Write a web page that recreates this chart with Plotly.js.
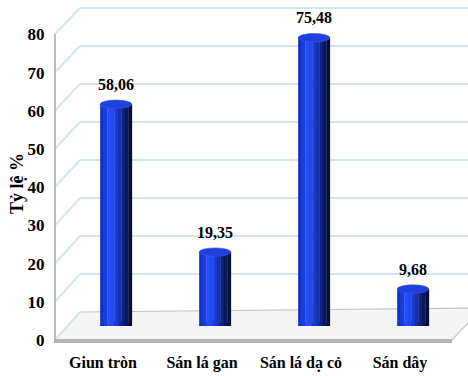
<!DOCTYPE html>
<html><head><meta charset="utf-8">
<script src="https://cdn.plot.ly/plotly-3.0.1.min.js"></script>
<style>html,body{margin:0;padding:0;background:#fff}</style>
</head><body>
<div id="chart" style="width:468px;height:376px"></div>
<script>
const categories = ['Giun tròn', 'Sán lá gan', 'Sán lá dạ cỏ', 'Sán dây'];
const values = [58.06, 19.35, 75.48, 9.68];
const yTicks = [0, 10, 20, 30, 40, 50, 60, 70, 80];
const yTitle = 'Tỷ lệ %';

const W = 468, H = 376;
const px = x => x / W, py = y => 1 - y / H;
const FONT = 'Liberation Serif, Times New Roman, serif';

// cylinder shading stripes (left -> right)
const stripeColors = ['#1533c2', '#1b3de0', '#2450fa', '#2149f2', '#1a3bd6', '#1230b0', '#0c2284', '#081858', '#050f3c'];
const barWidth = 0.32;
const sw = barWidth / stripeColors.length;

const traces = stripeColors.map((c, i) => ({
  type: 'bar', x: categories, y: values,
  width: sw * 1.08, offset: -barWidth / 2 + i * sw,
  marker: {color: c, line: {width: 0}},
  hoverinfo: 'skip', showlegend: false
}));

const shapes = [];
// floor
const fl = [[55, 340], [452, 340], [482, 308], [80, 312]];
shapes.push({type: 'path', xref: 'paper', yref: 'paper', layer: 'below',
  path: 'M' + fl.map(p => px(p[0]) + ',' + py(p[1])).join(' L') + ' Z',
  fillcolor: '#f5f5f5', line: {color: '#c4c4c4', width: 1.2}});
// back wall gridlines and left wall diagonals (decoration following the ticks)
yTicks.forEach(t => {
  if (t > 0) {
    shapes.push({type: 'line', xref: 'paper', yref: 'paper', layer: 'below',
      x0: px(80), y0: py(312 - t * 3.8), x1: 1, y1: py(312 - t * 3.8),
      line: {color: '#d3e6ee', width: 2}});
  }
  shapes.push({type: 'line', xref: 'paper', yref: 'paper', layer: 'below',
    x0: px(55), y0: py(340 - t * 3.825), x1: px(80), y1: py(312 - t * 3.8),
    line: {color: '#d3e6ee', width: 2}});
});
// front axis line and front floor edge
shapes.push({type: 'line', xref: 'paper', yref: 'paper', layer: 'below',
  x0: px(55), y0: py(34), x1: px(55), y1: py(340), line: {color: '#bdbdbd', width: 2}});
shapes.push({type: 'line', xref: 'paper', yref: 'paper', layer: 'below',
  x0: px(54), y0: py(341), x1: px(452), y1: py(341), line: {color: '#b5b5b5', width: 4}});
// cylinder bottoms and tops
values.forEach((v, i) => {
  shapes.push({type: 'circle', xref: 'x', yref: 'y', layer: 'below',
    x0: i - barWidth / 2, x1: i + barWidth / 2, y0: -1.1, y1: 1.1,
    fillcolor: '#0b1a66', line: {color: '#8a90d8', width: 0.8}});
  shapes.push({type: 'circle', xref: 'x', yref: 'y', layer: 'above',
    x0: i - barWidth / 2, x1: i + barWidth / 2, y0: v - 1.1, y1: v + 1.1,
    fillcolor: '#1f40dc', line: {color: '#3a58e8', width: 0.6}});
});

const annotations = values.map((v, i) => ({
  xref: 'x', yref: 'y', x: i, y: v + 1.1, yanchor: 'bottom', yshift: 5,
  text: '<b>' + v.toFixed(2).replace('.', ',') + '</b>', showarrow: false,
  font: {family: FONT, size: 16, color: '#000'}
}));
annotations.push({xref: 'paper', yref: 'paper', x: px(17), y: py(184), xanchor: 'center', yanchor: 'middle',
  textangle: -90, showarrow: false, text: '<b>' + yTitle + '</b>',
  font: {family: FONT, size: 18, color: '#000'}});

const layout = {
  width: W, height: H, autosize: false,
  margin: {l: 0, r: 0, t: 0, b: 0, pad: 0},
  paper_bgcolor: '#ffffff', plot_bgcolor: 'rgba(0,0,0,0)',
  barmode: 'overlay', showlegend: false,
  font: {family: FONT, color: '#000'},
  xaxis: {domain: [px(66.5), px(462.5)], type: 'category', categoryarray: categories,
    range: [-0.5, 3.5], showgrid: false, zeroline: false, showline: false, ticks: '',
    tickvals: categories, ticktext: categories.map(c => '<b>' + c + '</b>'),
    ticklabelshift: -13, ticklabelstandoff: 25,
    tickfont: {family: FONT, size: 16, color: '#000'}, fixedrange: true},
  yaxis: {domain: [py(326), py(20.4)], range: [0, 80], tickvals: yTicks,
    ticktext: yTicks.map(t => '<b>' + t + '</b>'),
    showgrid: false, zeroline: false, showline: false, ticks: '',
    ticklabelshift: 14, ticklabelstandoff: 21,
    tickfont: {family: FONT, size: 17, color: '#000'}, fixedrange: true},
  shapes: shapes,
  annotations: annotations
};

Plotly.newPlot('chart', traces, layout, {displayModeBar: false, staticPlot: true});
</script>
</body></html>
